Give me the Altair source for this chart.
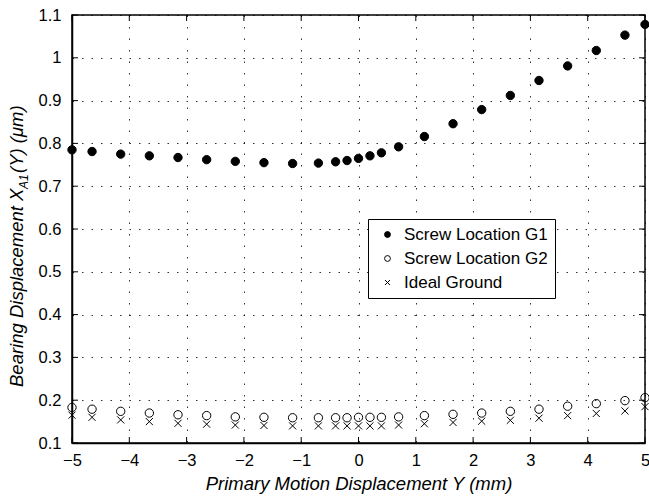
import altair as alt
import pandas as pd

# Primary motion displacement Y (mm)
y_mm = [-5, -4.65, -4.15, -3.65, -3.15, -2.65, -2.15, -1.65, -1.15, -0.7, -0.4,
        -0.2, 0, 0.2, 0.4, 0.7, 1.15, 1.65, 2.15, 2.65, 3.15, 3.65, 4.15, 4.65, 5]

# Bearing displacement X_A1(Y) in micrometres for each boundary condition
screw_g1 = [0.785, 0.781, 0.775, 0.771, 0.767, 0.762, 0.758, 0.755, 0.753, 0.754, 0.757,
            0.760, 0.765, 0.771, 0.778, 0.792, 0.816, 0.846, 0.879, 0.912, 0.947, 0.981,
            1.017, 1.053, 1.078]
screw_g2 = [0.183, 0.179, 0.174, 0.170, 0.166, 0.164, 0.161, 0.160, 0.159, 0.159, 0.159,
            0.159, 0.160, 0.160, 0.160, 0.161, 0.164, 0.167, 0.170, 0.174, 0.179, 0.186,
            0.192, 0.199, 0.206]
ideal_ground = [0.165, 0.160, 0.154, 0.150, 0.146, 0.144, 0.142, 0.141, 0.140, 0.140, 0.140,
                0.140, 0.140, 0.140, 0.140, 0.142, 0.145, 0.148, 0.151, 0.153, 0.158, 0.164,
                0.169, 0.175, 0.185]

series_names = ["Screw Location G1", "Screw Location G2", "Ideal Ground"]
x_ticks = [-5, -4, -3, -2, -1, 0, 1, 2, 3, 4, 5]
y_ticks = [0.1, 0.2, 0.3, 0.4, 0.5, 0.6, 0.7, 0.8, 0.9, 1.0, 1.1]

FONT = "Liberation Sans"
W, H = 573, 428

rows = []
for name, vals in zip(series_names, [screw_g1, screw_g2, ideal_ground]):
    for xv, v in zip(y_mm, vals):
        rows.append({"Y": xv, "X": v, "series": name})
df = pd.DataFrame(rows)

x_scale = alt.Scale(domain=[-5, 5], nice=False, zero=False)
y_scale = alt.Scale(domain=[0.1, 1.1], nice=False, zero=False)

legend = alt.Legend(
    title=None, orient="none", legendX=296, legendY=204,
    fillColor="white", strokeColor="black",
    padding=7, symbolOffset=4, labelOffset=8, rowPadding=6,
    labelFont=FONT, labelFontSize=17, labelColor="black",
    symbolSize=34, symbolStrokeWidth=1, labelLimit=300,
)

CROSS = "M-0.85,-0.85L0.85,0.85M-0.85,0.85L0.85,-0.85"

points = alt.Chart(df).mark_point(opacity=1, strokeWidth=1, size=70).encode(
    x=alt.X("Y:Q", scale=x_scale,
            axis=alt.Axis(values=x_ticks, format="~g",
                          title="Primary Motion Displacement Y (mm)",
                          grid=True, gridDash=[1.5, 10], gridColor="black", gridOpacity=0.8,
                          ticks=False, domain=True, domainColor="black", domainWidth=1.5,
                          labelFlush=False, labelPadding=9,
                          labelFont=FONT, labelFontSize=16.5, labelColor="black",
                          titleFont=FONT, titleFontSize=18.5, titleFontStyle="italic",
                          titleFontWeight="normal", titleColor="black", titlePadding=6)),
    y=alt.Y("X:Q", scale=y_scale,
            axis=alt.Axis(values=y_ticks, format="~g", title=None,
                          grid=True, gridDash=[1.5, 8], gridColor="black", gridOpacity=0.8,
                          ticks=False, domain=True, domainColor="black", domainWidth=1.5,
                          labelPadding=11,
                          labelFont=FONT, labelFontSize=16.5, labelColor="black")),
    shape=alt.Shape("series:N", sort=series_names, legend=legend,
                    scale=alt.Scale(domain=series_names, range=["circle", "circle", CROSS])),
    fill=alt.Fill("series:N", sort=series_names, legend=legend,
                  scale=alt.Scale(domain=series_names,
                                  range=["black", "transparent", "transparent"])),
    stroke=alt.Stroke("series:N", sort=series_names, legend=legend,
                      scale=alt.Scale(domain=series_names,
                                      range=["black", "black", "black"])),
)

# Inward tick marks on all four sides of the frame
xt = pd.DataFrame({"Y": x_ticks})
yt = pd.DataFrame({"X": y_ticks})
ticks = [
    alt.Chart(xt).mark_rule(color="black").encode(x="Y:Q", y=alt.value(H), y2=alt.value(H - 6)),
    alt.Chart(xt).mark_rule(color="black").encode(x="Y:Q", y=alt.value(0), y2=alt.value(6)),
    alt.Chart(yt).mark_rule(color="black").encode(y="X:Q", x=alt.value(0), x2=alt.value(6)),
    alt.Chart(yt).mark_rule(color="black").encode(y="X:Q", x=alt.value(W), x2=alt.value(W - 6)),
]

# Y-axis title with subscript, drawn as rotated text pieces
title_pieces = [
    ("Bearing Displacement X", -49, 372, 18.5),
    ("A1", -44, 174, 12),
    ("(Y) (\u03bcm)", -49, 158, 18.5),
]
y_title = [
    alt.Chart(pd.DataFrame({"t": [txt]})).mark_text(
        angle=270, align="left", baseline="alphabetic", font=FONT, fontStyle="italic",
        color="black", fontSize=fs,
    ).encode(x=alt.value(px), y=alt.value(py), text="t:N")
    for txt, px, py, fs in title_pieces
]

chart = alt.layer(points, *ticks, *y_title).properties(
    width=W, height=H,
    background="white",
    autosize=alt.AutoSizeParams(type="none"),
    padding={"left": 72, "top": 15, "right": 4, "bottom": 55},
).configure_view(stroke="black", strokeWidth=1.5)

chart.save("out.html", embed_options={"renderer": "svg", "actions": False})
